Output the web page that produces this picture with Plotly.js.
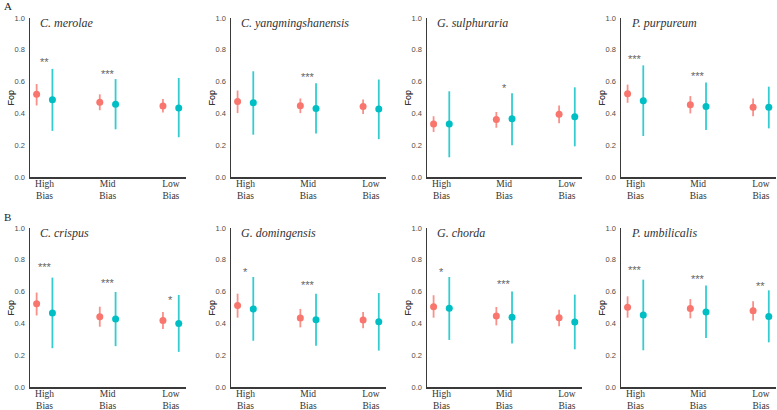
<!DOCTYPE html>
<html>
<head>
<meta charset="utf-8">
<script src="https://cdn.plot.ly/plotly-3.0.1.min.js"></script>
<style>html,body{margin:0;padding:0;background:#fff;}#chart{width:777px;height:410px;}</style>
</head>
<body>
<div id="chart"></div>
<script>
// ---- data ----
const categories = ["High<br>Bias", "Mid<br>Bias", "Low<br>Bias"];
const species = ["C. merolae", "C. yangmingshanensis", "G. sulphuraria", "P. purpureum",
                 "C. crispus", "G. domingensis", "G. chorda", "P. umbilicalis"];
const yTicks = [0, 0.2, 0.4, 0.6, 0.8, 1.0];
const yTickText = ["0.0", "0.2", "0.4", "0.6", "0.8", "1.0"];

// red series (group 1): mean, lower, upper per category (High, Mid, Low)
const redMean = [[0.520, 0.470, 0.446], [0.475, 0.448, 0.444], [0.333, 0.361, 0.394], [0.524, 0.455, 0.438],
                 [0.524, 0.442, 0.419], [0.512, 0.434, 0.421], [0.505, 0.447, 0.436], [0.501, 0.493, 0.480]];
const redLow  = [[0.450, 0.420, 0.405], [0.402, 0.402, 0.397], [0.283, 0.310, 0.338], [0.467, 0.400, 0.382],
                 [0.450, 0.379, 0.364], [0.436, 0.375, 0.369], [0.436, 0.388, 0.382], [0.436, 0.432, 0.419]];
const redHigh = [[0.585, 0.520, 0.490], [0.544, 0.494, 0.487], [0.382, 0.409, 0.449], [0.581, 0.509, 0.493],
                 [0.594, 0.505, 0.472], [0.587, 0.491, 0.472], [0.577, 0.503, 0.486], [0.570, 0.553, 0.539]];

// teal series (group 2)
const tealMean = [[0.486, 0.457, 0.434], [0.467, 0.431, 0.427], [0.333, 0.367, 0.379], [0.480, 0.444, 0.438],
                  [0.465, 0.427, 0.400], [0.491, 0.423, 0.411], [0.495, 0.438, 0.409], [0.453, 0.472, 0.444]];
const tealLow  = [[0.290, 0.300, 0.250], [0.266, 0.274, 0.238], [0.124, 0.199, 0.193], [0.258, 0.296, 0.306],
                  [0.244, 0.257, 0.221], [0.291, 0.260, 0.229], [0.296, 0.273, 0.237], [0.231, 0.308, 0.281]];
const tealHigh = [[0.680, 0.616, 0.623], [0.665, 0.590, 0.613], [0.539, 0.526, 0.564], [0.702, 0.595, 0.568],
                  [0.688, 0.598, 0.579], [0.692, 0.587, 0.591], [0.692, 0.600, 0.581], [0.675, 0.639, 0.608]];

// significance labels and their heights
const stars = [["**", "***", ""], ["", "***", ""], ["", "*", ""], ["***", "***", ""],
               ["***", "***", "*"], ["*", "***", ""], ["*", "***", ""], ["***", "***", "**"]];
const starY = [[0.742, 0.667, 0], [0, 0.650, 0], [0, 0.579, 0], [0.763, 0.654, 0],
               [0.773, 0.672, 0.566], [0.742, 0.658, 0], [0.744, 0.667, 0], [0.757, 0.696, 0.654]];
const rowLetters = ["A", "B"];

// ---- layout geometry ----
const W = 777, H = 410;
const xDom = [[30, 186], [231, 386], [427, 582], [621, 776]];
const yDom = [[233, 392], [23, 182]];
const dodge = 0.125;
const RED = "#F8766D", TEAL = "#00BFC4";
const SERIF = '"Liberation Serif", "Times New Roman", serif';
const SANS = '"Liberation Sans", Arial, sans-serif';

const traces = [];
const layout = {
  width: W, height: H,
  margin: {l: 0, r: 0, t: 0, b: 0},
  paper_bgcolor: "#ffffff", plot_bgcolor: "rgba(0,0,0,0)",
  showlegend: false,
  annotations: []
};

for (let i = 0; i < species.length; i++) {
  const row = Math.floor(i / 4), col = i % 4, n = i + 1;
  const xa = "x" + (n === 1 ? "" : n), ya = "y" + (n === 1 ? "" : n);
  const xk = "xaxis" + (n === 1 ? "" : n), yk = "yaxis" + (n === 1 ? "" : n);
  layout[xk] = {
    domain: [xDom[col][0] / W, xDom[col][1] / W], range: [-0.23, 2.24], anchor: ya,
    showline: true, linecolor: "#3a3a3a", linewidth: 1.5, showgrid: false, zeroline: false,
    tickmode: "array", tickvals: [0, 1, 2], ticktext: categories, ticks: "", ticklen: 0,
    tickfont: {family: SERIF, size: 9.5, color: "#333333"},
    ticklabelstandoff: -3, fixedrange: true
  };
  layout[yk] = {
    domain: [yDom[row][0] / H, yDom[row][1] / H], range: [0, 1], anchor: xa,
    showline: true, linecolor: "#3a3a3a", linewidth: 1.5, showgrid: false, zeroline: false,
    tickmode: "array", tickvals: yTicks, ticktext: yTickText, ticks: "", ticklen: 0,
    tickfont: {family: SANS, size: 7.5, color: "#4d4d4d"},
    ticklabelstandoff: 2, fixedrange: true
  };
  const xs = [0, 1, 2];
  traces.push({
    type: "scatter", mode: "markers", xaxis: xa, yaxis: ya,
    x: xs.map(v => v - dodge), y: redMean[i],
    error_y: {type: "data", symmetric: false,
      array: redHigh[i].map((v, k) => v - redMean[i][k]),
      arrayminus: redMean[i].map((v, k) => v - redLow[i][k]),
      color: "rgba(248,118,109,0.8)", thickness: 1.8, width: 0},
    marker: {color: RED, size: 7}, hoverinfo: "skip"
  });
  traces.push({
    type: "scatter", mode: "markers", xaxis: xa, yaxis: ya,
    x: xs.map(v => v + dodge), y: tealMean[i],
    error_y: {type: "data", symmetric: false,
      array: tealHigh[i].map((v, k) => v - tealMean[i][k]),
      arrayminus: tealMean[i].map((v, k) => v - tealLow[i][k]),
      color: "rgba(0,191,196,0.8)", thickness: 1.8, width: 0},
    marker: {color: TEAL, size: 7}, hoverinfo: "skip"
  });
  // y axis title
  layout.annotations.push({
    xref: "paper", yref: ya + " domain", x: (xDom[col][0] - 20) / W, y: 0.5,
    text: "Fop", textangle: -90, showarrow: false, xanchor: "center", yanchor: "middle",
    font: {family: SANS, size: 9, color: "#000000"}
  });
  // panel title
  layout.annotations.push({
    xref: "paper", yref: ya, x: (xDom[col][0] + 8) / W, y: 1.0, yshift: -5,
    text: species[i], showarrow: false, xanchor: "left", yanchor: "middle",
    font: {family: SERIF, size: 12, color: "#333333", style: "italic"}
  });
  // significance stars
  for (let k = 0; k < 3; k++) {
    if (!stars[i][k]) continue;
    layout.annotations.push({
      xref: xa, yref: ya, x: k, y: starY[i][k], yshift: -3,
      text: stars[i][k], showarrow: false, xanchor: "center", yanchor: "middle",
      font: {family: SANS, size: 11, color: "#666666"}
    });
  }
}
// row letters
layout.annotations.push({xref: "paper", yref: "paper", x: 2 / W, y: (H - 6) / H, text: rowLetters[0],
  showarrow: false, xanchor: "left", yanchor: "middle",
  font: {family: SERIF, size: 11, color: "#222222"}});
layout.annotations.push({xref: "paper", yref: "paper", x: 2 / W, y: (H - 217) / H, text: rowLetters[1],
  showarrow: false, xanchor: "left", yanchor: "middle",
  font: {family: SERIF, size: 11, color: "#222222"}});

Plotly.newPlot("chart", traces, layout, {staticPlot: true, displayModeBar: false});
</script>
</body>
</html>
